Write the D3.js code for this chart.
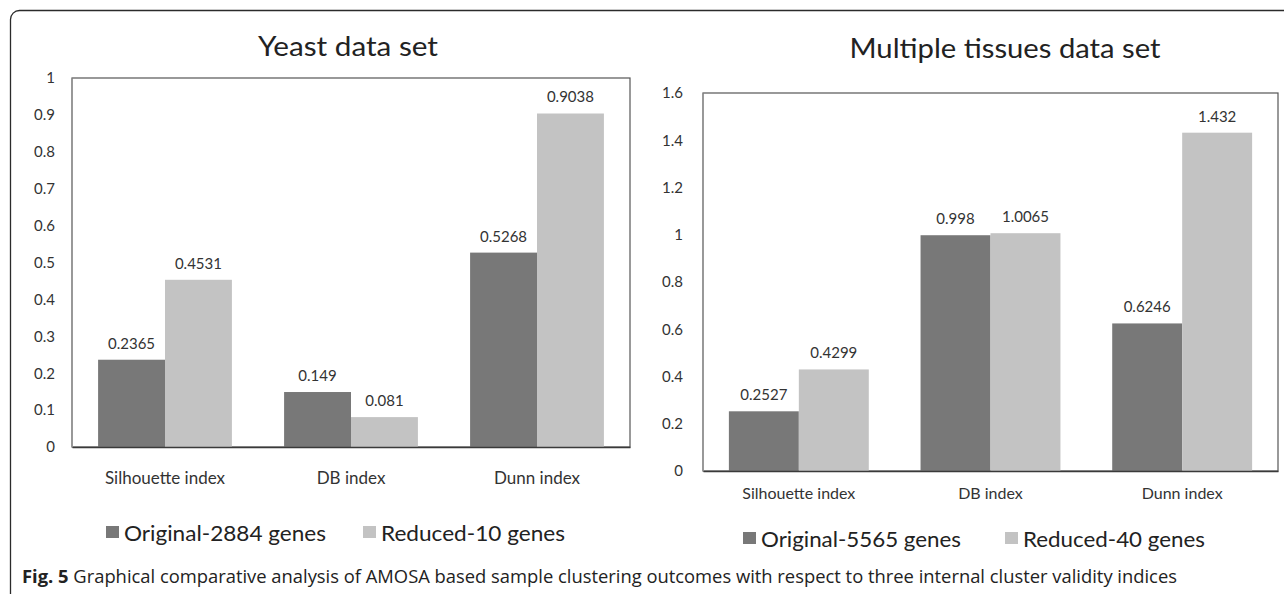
<!DOCTYPE html>
<html>
<head>
<meta charset="utf-8">
<script src="https://cdn.jsdelivr.net/npm/d3@7"></script>
<style>
  html, body { margin: 0; padding: 0; background: #fff; }
  svg { display: block; }
</style>
</head>
<body>
<svg id="fig" width="1284" height="594"></svg>
<script>
// Index names shared by both panels
const categories = ["Silhouette index", "DB index", "Dunn index"];

// Yeast data set
const yeastOriginal = [0.2365, 0.149, 0.5268];
const yeastReduced = [0.4531, 0.081, 0.9038];
const yeastTicks = [0, 0.1, 0.2, 0.3, 0.4, 0.5, 0.6, 0.7, 0.8, 0.9, 1];
const yeastSeries = ["Original-2884 genes", "Reduced-10 genes"];

// Multiple tissues data set
const tissueOriginal = [0.2527, 0.998, 0.6246];
const tissueReduced = [0.4299, 1.0065, 1.432];
const tissueTicks = [0, 0.2, 0.4, 0.6, 0.8, 1, 1.2, 1.4, 1.6];
const tissueSeries = ["Original-5565 genes", "Reduced-40 genes"];

const captionBold = "Fig. 5";
const captionText = "Graphical comparative analysis of AMOSA based sample clustering outcomes with respect to three internal cluster validity indices";

const seriesColors = ["#787878", "#c3c3c3"];
const chartFont = "Lato, 'Open Sans', sans-serif";

const svg = d3.select("#fig");

// Outer frame with a rounded top-left corner
svg.append("rect")
  .attr("x", 10.5).attr("y", 10.5)
  .attr("width", 1300).attr("height", 620)
  .attr("rx", 9).attr("ry", 9)
  .attr("fill", "none")
  .attr("stroke", "#2b2b2b")
  .attr("stroke-width", 1.3);

function drawPanel(cfg) {
  const g = svg.append("g");
  const rows = categories.map((c, i) => ({ cat: c, values: [cfg.original[i], cfg.reduced[i]] }));

  const x0 = d3.scaleBand().domain(categories).range([cfg.left, cfg.right]).padding(0);
  const x1 = d3.scaleBand().domain([0, 1]).range([0, x0.bandwidth()])
    .paddingInner(0).paddingOuter(cfg.barPad);
  const y = d3.scaleLinear().domain([0, cfg.max]).range([cfg.bottom, cfg.top]);

  // Title
  g.append("text")
    .attr("x", cfg.titleX - cfg.titleW / 2).attr("y", cfg.titleY)
    .attr("dominant-baseline", "central")
    .attr("font-family", chartFont)
    .attr("font-size", cfg.titleSize)
    .attr("fill", "#222")
    .attr("textLength", cfg.titleW)
    .attr("lengthAdjust", "spacingAndGlyphs")
    .text(cfg.title);

  // Plot area frame
  g.append("rect")
    .attr("x", cfg.left).attr("y", cfg.top)
    .attr("width", cfg.right - cfg.left).attr("height", cfg.bottom - cfg.top)
    .attr("fill", "none").attr("stroke", "#555").attr("stroke-width", 1.2);

  // Y axis
  const yAxis = d3.axisLeft(y)
    .tickValues(cfg.ticks)
    .tickSize(0)
    .tickPadding(cfg.tickPad)
    .tickFormat(d3.format("~g"));
  const ya = g.append("g").attr("transform", `translate(${cfg.left},0)`).call(yAxis);
  ya.select(".domain").attr("stroke", "#999");
  ya.selectAll("text")
    .attr("font-family", chartFont)
    .attr("font-size", 15)
    .attr("fill", "#333");

  // Bars
  const grp = g.selectAll("g.cat").data(rows).join("g")
    .attr("class", "cat")
    .attr("transform", d => `translate(${x0(d.cat)},0)`);
  grp.selectAll("rect").data(d => d.values.map((v, k) => ({ v, k }))).join("rect")
    .attr("x", d => x1(d.k))
    .attr("width", x1.bandwidth())
    .attr("y", d => y(d.v))
    .attr("height", d => y(0) - y(d.v))
    .attr("fill", d => seriesColors[d.k]);
  grp.selectAll("text").data(d => d.values.map((v, k) => ({ v, k }))).join("text")
    .attr("x", d => x1(d.k) + x1.bandwidth() / 2)
    .attr("y", d => y(d.v) - 17)
    .attr("text-anchor", "middle")
    .attr("dominant-baseline", "central")
    .attr("font-family", chartFont)
    .attr("font-size", 15)
    .attr("fill", "#333")
    .text(d => String(d.v));

  // X axis baseline and category labels
  const xAxis = d3.axisBottom(x0).tickSize(0).tickPadding(0);
  const xa = g.append("g").attr("transform", `translate(0,${cfg.bottom})`).call(xAxis);
  xa.select(".domain").attr("stroke", "#3a3a3a").attr("stroke-width", 1.4);
  xa.selectAll("text")
    .attr("y", cfg.catY - cfg.bottom)
    .attr("dy", null)
    .attr("dominant-baseline", "central")
    .attr("font-family", chartFont)
    .attr("font-size", cfg.catSize)
    .attr("fill", "#333");

  // Legend
  const lg = g.append("g").attr("transform", `translate(0,${cfg.legendY})`);
  cfg.series.forEach((name, k) => {
    lg.append("rect")
      .attr("x", cfg.legendX[k]).attr("y", -6)
      .attr("width", 13).attr("height", 12)
      .attr("fill", seriesColors[k]);
    lg.append("text")
      .attr("x", cfg.legendX[k] + 18).attr("y", 0)
      .attr("dominant-baseline", "central")
      .attr("font-family", chartFont)
      .attr("font-size", 22)
      .attr("fill", "#222")
      .attr("textLength", cfg.legendW[k])
      .attr("lengthAdjust", "spacingAndGlyphs")
      .text(name);
  });
}

drawPanel({
  title: "Yeast data set", titleX: 348, titleY: 45, titleSize: 27, titleW: 180,
  original: yeastOriginal, reduced: yeastReduced, ticks: yeastTicks, max: 1,
  series: yeastSeries, barPad: 0.39,
  left: 72, right: 630, top: 78, bottom: 447, tickPad: 17,
  catY: 477, catSize: 17, legendY: 532, legendX: [106, 363], legendW: [202, 184]
});

drawPanel({
  title: "Multiple tissues data set", titleX: 1005, titleY: 47, titleSize: 27, titleW: 311,
  original: tissueOriginal, reduced: tissueReduced, ticks: tissueTicks, max: 1.6,
  series: tissueSeries, barPad: 0.37,
  left: 703, right: 1278, top: 93, bottom: 471, tickPad: 20,
  catY: 492, catSize: 16, legendY: 538, legendX: [743, 1005], legendW: [200, 182]
});

// Caption
const cap = svg.append("text")
  .attr("x", 22).attr("y", 583)
  .attr("font-family", "'Open Sans', 'Noto Sans', sans-serif")
  .attr("font-size", 18)
  .attr("fill", "#222");
cap.append("tspan").attr("font-weight", "bold").text(captionBold);
cap.append("tspan").text(" " + captionText);
cap.attr("textLength", 1155).attr("lengthAdjust", "spacingAndGlyphs");
</script>
</body>
</html>
